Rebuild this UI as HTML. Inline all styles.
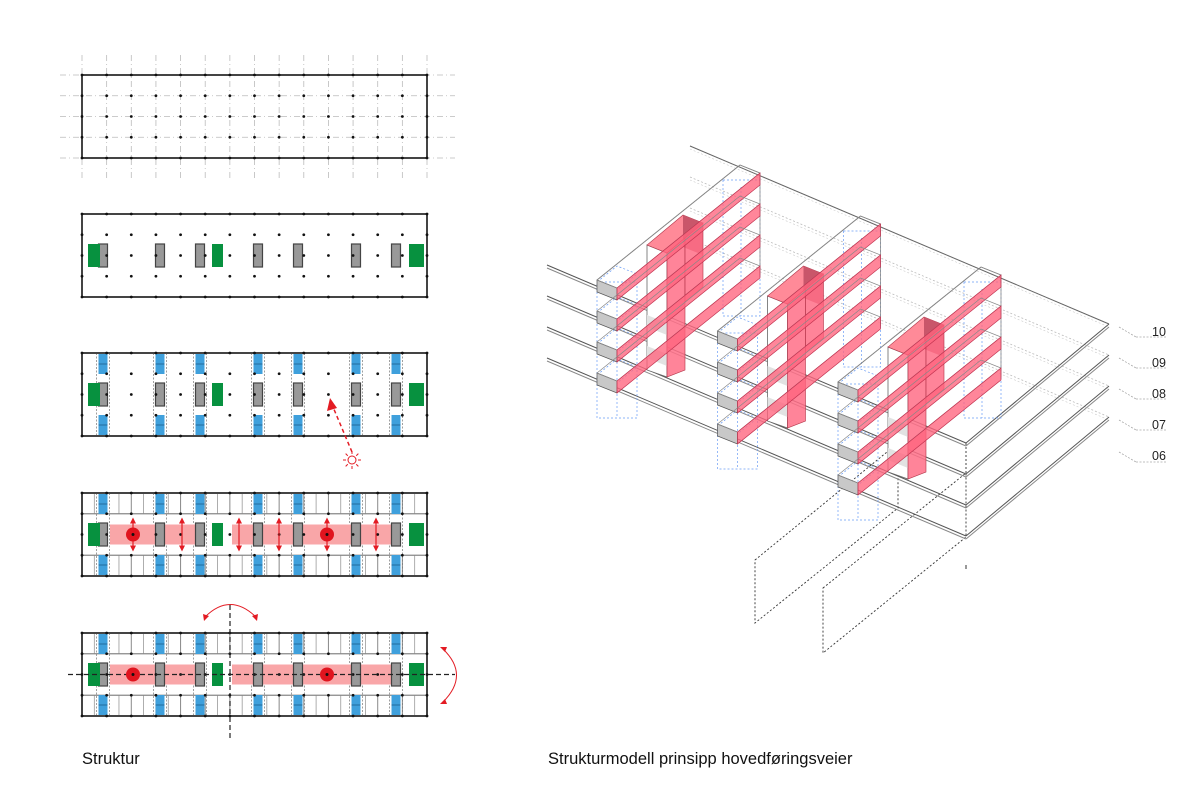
<!DOCTYPE html>
<html><head><meta charset="utf-8"><style>
html,body{margin:0;padding:0;background:#fff;}
svg{display:block;}
text{font-family:"Liberation Sans",sans-serif;}
</style></head><body>
<svg id="s" width="1200" height="799" viewBox="0 0 1200 799" xmlns="http://www.w3.org/2000/svg">
<text x="82" y="764" font-size="16.5" fill="#111">Struktur</text>
<text x="548" y="764" font-size="16.5" fill="#111">Strukturmodell prinsipp hovedføringsveier</text>
<g font-size="12.5" fill="#222">
<text x="1152" y="336">10</text><text x="1152" y="367">09</text><text x="1152" y="398">08</text><text x="1152" y="429">07</text><text x="1152" y="460">06</text>
</g>
</svg>
<script>
const S=document.getElementById('s');const NS='http://www.w3.org/2000/svg';
function el(t,a){const e=document.createElementNS(NS,t);for(const k in a)e.setAttribute(k,a[k]);S.appendChild(e);return e;}
function line(x1,y1,x2,y2,st,w,da){const a={x1,y1,x2,y2,stroke:st,'stroke-width':w||1};if(da)a['stroke-dasharray']=da;return el('line',a);}
function rect(x,y,w,h,f,st,sw){return el('rect',{x,y,width:w,height:h,fill:f,stroke:st||'none','stroke-width':sw||1});}
function poly(p,f,st,sw,da){const a={points:p.map(q=>q.join(',')).join(' '),fill:f,stroke:st||'none','stroke-width':sw||1};if(da)a['stroke-dasharray']=da;return el('polygon',a);}
const X0=82,X1=427,step=(X1-X0)/14;const xs=[];for(let i=0;i<15;i++)xs.push(X0+i*step);
const cores=[103,160,200,258,298,356,396];
const greens=[[88,12],[212,11],[409,15]];
function plan(top,n){
 const h=83,rs=h/4;const ys=[0,1,2,3,4].map(i=>top+i*rs);const mid=ys[2];
 if(n==1){xs.forEach(x=>line(x,top-20,x,top+h+22,'#bbb',0.8,'6 3 1 3'));ys.forEach(y=>line(60,y,455,y,'#bbb',0.8,'6 3 1 3'));}
 if(n>=4){
  xs.forEach(x=>{line(x,ys[0],x,ys[1],'#888',1);line(x,ys[3],x,ys[4],'#888',1);});
  for(let i=0;i<14;i++){const x=xs[i]+step/2;if(!cores.some(c=>Math.abs(c-x)<8)){line(x,ys[0],x,ys[1],'#999',0.8);line(x,ys[3],x,ys[4],'#999',0.8);}}
  line(X0,ys[1],X1,ys[1],'#888',1.2);line(X0,ys[3],X1,ys[3],'#888',1.2);
 }
 if(n>=3){cores.forEach(c=>{line(c-6.5,top,c-6.5,top+h,'#777',0.7,'2 1.5');line(c+6.5,top,c+6.5,top+h,'#777',0.7,'2 1.5');
   rect(c-4.5,top+1,9,20,'#3fa0dc');line(c-4.5,top+11,c+4.5,top+11,'#1c5f8f',0.8);
   rect(c-4.5,top+h-21,9,20,'#3fa0dc');line(c-4.5,top+h-11,c+4.5,top+h-11,'#1c5f8f',0.8);});}
 if(n>=4){rect(110,mid-10,88,20,'#f9a6a8');rect(232,mid-10,162,20,'#f9a6a8');}
 rect(X0,top,X1-X0,h,'none','#444',2);
 if(n>=2){cores.forEach(c=>rect(c-4.5,mid-11.5,9,23,'#999','#444',1.2));greens.forEach(g=>rect(g[0],mid-11.5,g[1],23,'#07913f'));}
 xs.forEach(x=>ys.forEach(y=>{el('circle',{cx:x,cy:y,r:1.4,fill:'#111'});}));
 return mid;
}
plan(75,1);plan(214,2);plan(353,3);const m4=plan(493,4);const m5=plan(633,5);
line(352,452,333,407,'#e31b23',1.5,'4 3');poly([[330,398],[327,411],[337,408]],'#e31b23');
el('circle',{cx:352,cy:460,r:4,fill:'none',stroke:'#e31b23','stroke-width':1});
for(let i=0;i<8;i++){const a=i*Math.PI/4;line(352+6*Math.cos(a),460+6*Math.sin(a),352+9*Math.cos(a),460+9*Math.sin(a),'#e31b23',1);}
[133,182,239,279,327,376].forEach(x=>{line(x,m4-13,x,m4+13,'#e31b23',1.2);poly([[x,m4-17],[x-3,m4-11],[x+3,m4-11]],'#e31b23');poly([[x,m4+17],[x-3,m4+11],[x+3,m4+11]],'#e31b23');});
[133,327].forEach(x=>{el('circle',{cx:x,cy:m4,r:7,fill:'#e0141e'});el('circle',{cx:x,cy:m4,r:1.5,fill:'#111'});});
line(68,m5,455,m5,'#222',1.2,'5 3');line(230,605,230,738,'#222',1.2,'5 3');
[133,327].forEach(x=>{el('circle',{cx:x,cy:m5,r:7,fill:'#e0141e'});el('circle',{cx:x,cy:m5,r:1.5,fill:'#111'});});
el('path',{d:'M205,617 Q230,592 256,617',fill:'none',stroke:'#e31b23','stroke-width':1});
poly([[204,621],[203,614],[209,616]],'#e31b23');poly([[257,621],[258,614],[252,616]],'#e31b23');
el('path',{d:'M443,649 Q470,675 443,702',fill:'none',stroke:'#e31b23','stroke-width':1});
poly([[440,647],[447,647],[445,652]],'#e31b23');poly([[440,704],[447,704],[445,699]],'#e31b23');

for(let k=0;k<4;k++){const d=31*k;
 line(690,146+d,1109,324+d,'#bbb',0.8,'2 2');line(690,149+d,1109,327+d,'#ccc',0.6,'2 2');}
line(690,146,1109,324,'#666',1);
poly([[755,560],[898,443],[898,508],[755,623]],'none','#333',0.9,'2 2');
poly([[823,588],[966,473],[966,537],[823,653]],'none','#333',0.9,'2 2');
line(966,443,966,473,'#333',0.9,'2 2');line(966,565,966,569,'#333',1);
for(let k=3;k>=0;k--){const d=31*k;
 [[0,'#555'],[3,'#888']].forEach(([o,c])=>{line(547,265+d+o,966,443+d+o,c,1);line(966,443+d+o,1109,324+d+o,c,1);});
 line(1119,327+d,1136,337+d,'#aaa',0.8,'2 1.5');line(1136,337+d,1166,337+d,'#aaa',0.8,'2 1.5');}
line(1119,452,1136,462,'#aaa',0.8,'2 1.5');line(1136,462,1166,462,'#aaa',0.8,'2 1.5');
for(let t=0;t<3;t++){const Px=617+120.5*t,Py=295+51*t;
 const P=(dx,dy)=>[Px+dx,Py+dy];
 for(let j=0;j<4;j++){poly([P(-20,-13+31*j),P(0,-5+31*j),P(20,-21+31*j),P(0,-29+31*j)],'none','#6a9cf5',0.7,'2 2');}
 rect(Px-20,Py-13,40,136,'none','#6a9cf5',0.7).setAttribute('stroke-dasharray','2 2');
 line(Px,Py-5,Px,Py+123,'#6a9cf5',0.7).setAttribute('stroke-dasharray','2 2');
 rect(Px+106,Py-115,37,136,'none','#6a9cf5',0.7).setAttribute('stroke-dasharray','2 2');
 line(Px+124,Py-108,Px+124,Py+21,'#6a9cf5',0.7).setAttribute('stroke-dasharray','2 2');
 line(Px-20,Py-15,Px+123,Py-130,'#777',0.9);line(Px+123,Py-130,Px+143,Py-122,'#777',0.9);
 line(Px+143,Py-122,Px+143,Py-20,'#888',0.8);
 poly([P(30,-50),P(50,-42),P(50,82),P(30,75)],'#fff','#666',0.8);
 poly([P(30,20),P(50,28),P(50,40),P(30,32)],'#e2e2e2');poly([P(30,51),P(50,59),P(50,71),P(30,63)],'#e2e2e2');
 poly([P(30,-50),P(50,-42),P(86,-72),P(66,-80)],'#ff8a98','#b3364a',0.6);
 poly([P(66,-80),P(86,-72),P(86,-40),P(66,-48)],'#c9566a');
 poly([P(50,-42),P(68,-57),P(68,75),P(50,82)],'rgba(255,110,135,0.85)','#b3364a',0.6);
 poly([P(68,-57),P(86,-72),P(86,-8),P(68,7)],'rgba(255,110,135,0.85)','#b3364a',0.6);
 for(let j=0;j<4;j++){const o=31*j;
  poly([P(-20,-15+o),P(0,-7+o),P(0,5+o),P(-20,-3+o)],'#c8c8c8','#555',0.7);
  poly([P(-20,-15+o),P(0,-7+o),P(143,-122+o),P(123,-130+o)],'none','#888',0.7);
  poly([P(0,-7+o),P(143,-122+o),P(143,-110+o),P(0,5+o)],'rgba(255,100,125,0.78)','#c23350',0.7);
 }
}
</script>
</body></html>
